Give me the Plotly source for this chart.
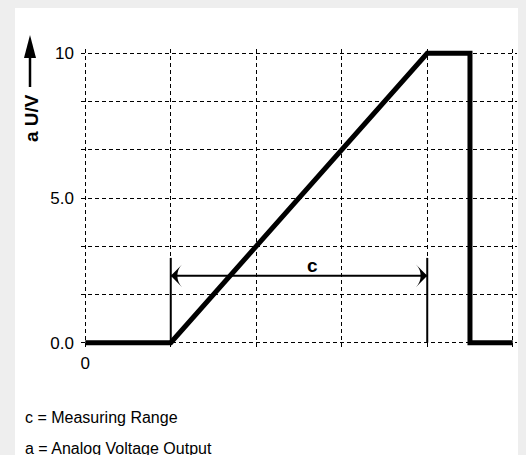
import plotly.graph_objects as go

# ---- data ----
x_output = [0, 1, 4, 4.5, 4.5, 5]
y_output = [0, 0, 10, 10, 0, 0]

range_x = [1, 4]            # measuring range c (start, end)
range_marker_top = 2.93      # height of the range limit lines
range_arrow_y = 2.31         # height of the double arrow
range_label = "c"
range_label_pos = (2.66, 2.65)

y_tickvals = [0, 5, 10]
y_ticktext = ["0.0", "5.0", "10"]
y_minor = [10 / 6, 20 / 6, 40 / 6, 50 / 6]
x_gridvals = [0, 1, 2, 3, 4, 5]
x_ticktext = ["0", "", "", "", "", ""]

y_label = "a U/V"
notes = ["c = Measuring Range", "a = Analog Voltage Output"]

FONT = "Liberation Sans, Arial, Helvetica, sans-serif"
W, H = 526, 455
ML, MR, MT, MB = 81, 9, 49, 108
PW, PH = W - ML - MR, H - MT - MB


def px(x):
    return (x - ML) / PW


def py(y):
    return (H - MB - y) / PH


fig = go.Figure()

# main output curve
fig.add_trace(go.Scatter(x=x_output, y=y_output, mode="lines",
                         line=dict(color="black", width=5),
                         hoverinfo="skip", showlegend=False))

# range limit lines
for xv in range_x:
    fig.add_trace(go.Scatter(x=[xv, xv], y=[0, range_marker_top], mode="lines",
                             line=dict(color="black", width=2),
                             hoverinfo="skip", showlegend=False))

# double arrow
fig.add_trace(go.Scatter(x=range_x, y=[range_arrow_y, range_arrow_y],
                         mode="lines+markers",
                         line=dict(color="black", width=2),
                         marker=dict(symbol="arrow-wide", size=16, color="black",
                                     angle=[-90, 90], line=dict(width=0)),
                         hoverinfo="skip", showlegend=False))

grid = dict(gridcolor="black", gridwidth=1, griddash="4px,3px")

fig.update_xaxes(range=[-0.05, 5.05], tickvals=x_gridvals, ticktext=x_ticktext,
                 showgrid=True, zeroline=False, showline=False, ticks="",
                 ticklabelstandoff=4, automargin=False,
                 tickfont=dict(family=FONT, size=17, color="black"), **grid)
fig.update_yaxes(range=[-0.15, 10.15], tickvals=y_tickvals, ticktext=y_ticktext,
                 showgrid=True, zeroline=False, showline=False, ticks="",
                 ticklabelstandoff=6, automargin=False,
                 tickfont=dict(family=FONT, size=17, color="black"),
                 minor=dict(tickvals=y_minor, showgrid=True, ticks="", **grid),
                 **grid)

annotations = [
    dict(text="<b>%s</b>" % range_label, x=range_label_pos[0], y=range_label_pos[1],
         xref="x", yref="y", showarrow=False,
         font=dict(family=FONT, size=19, color="black")),
    dict(text="<b>%s</b>" % y_label, x=px(31), y=py(118), xref="paper", yref="paper",
         xanchor="center", yanchor="middle",
         showarrow=False, textangle=-90,
         font=dict(family=FONT, size=19, color="black")),
    dict(text=notes[0], x=px(23), y=py(417), xref="paper", yref="paper",
         xanchor="left", yanchor="middle", showarrow=False,
         font=dict(family=FONT, size=16, color="black")),
    dict(text=notes[1], x=px(23), y=py(448), xref="paper", yref="paper",
         xanchor="left", yanchor="middle", showarrow=False,
         font=dict(family=FONT, size=16, color="black")),
]

# y-axis label arrow (decoration in paper coordinates)
tip, base, bottom, half = (30, 35), 58, 87, 6
arrow_head = "M %f,%f L %f,%f L %f,%f Z" % (
    px(tip[0]), py(tip[1]), px(tip[0] - half), py(base), px(tip[0] + half), py(base))

shapes = [
    dict(type="rect", xref="paper", yref="paper", layer="below",
         x0=px(15), x1=px(518), y0=py(470), y1=py(8),
         fillcolor="white", line=dict(width=0)),
    dict(type="path", xref="paper", yref="paper", path=arrow_head,
         fillcolor="black", line=dict(width=0)),
    dict(type="line", xref="paper", yref="paper",
         x0=px(tip[0]), x1=px(tip[0]), y0=py(base - 2), y1=py(bottom),
         line=dict(color="black", width=2.5)),
]

fig.update_layout(
    width=W, height=H,
    margin=dict(l=ML, r=MR, t=MT, b=MB, pad=0),
    paper_bgcolor="#eeeeee", plot_bgcolor="white",
    shapes=shapes,
    annotations=annotations,
    font=dict(family=FONT, color="black"),
)

fig.write_html("out.html",
               config={"displayModeBar": False},
               post_script="document.body.style.margin='0';"
                           "document.body.style.overflow='hidden';")
